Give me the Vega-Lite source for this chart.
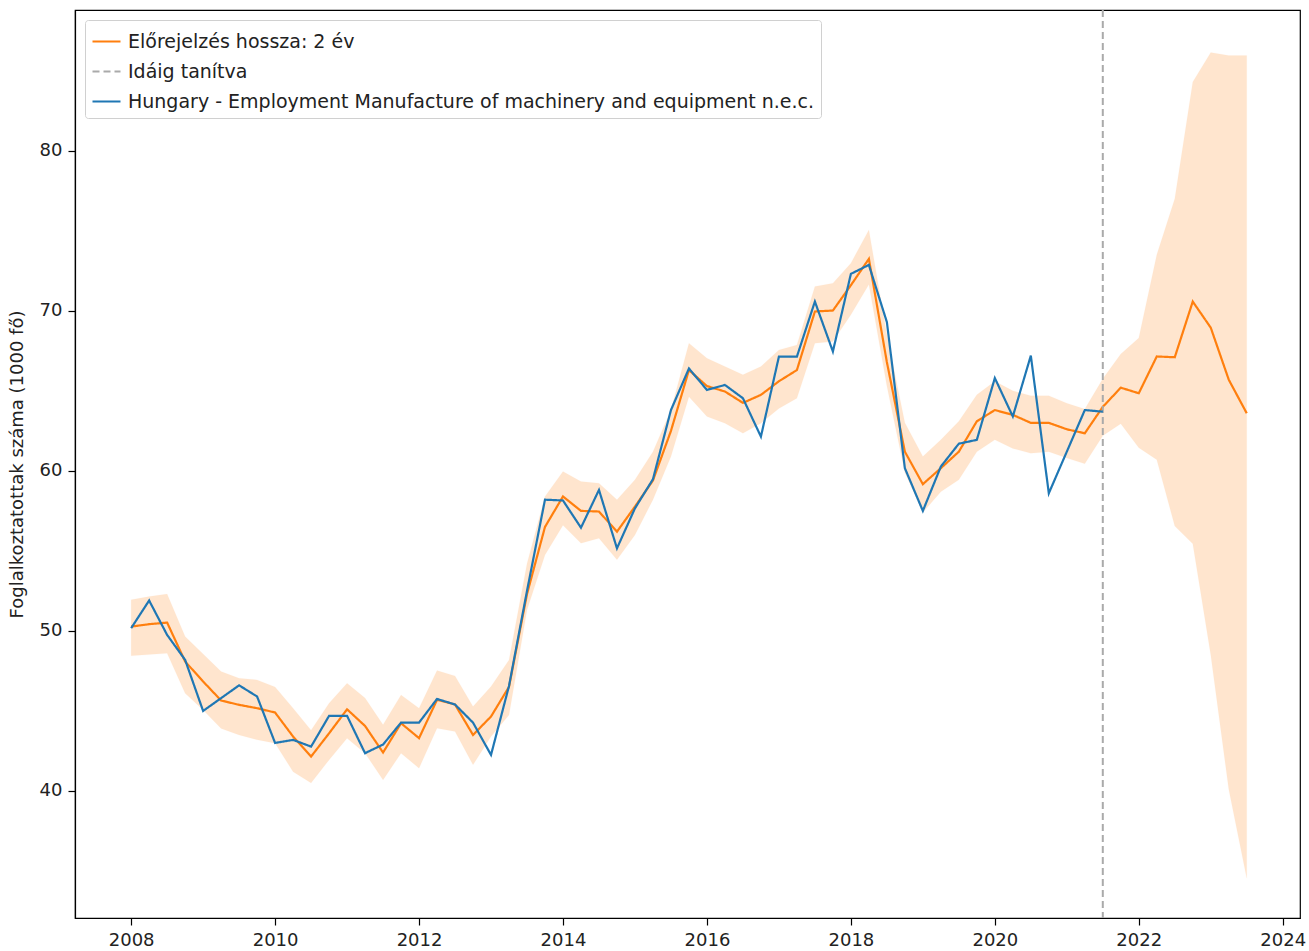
{
  "$schema": "https://vega.github.io/schema/vega-lite/v6.json",
  "width": 1225,
  "height": 908,
  "autosize": {"type": "none"},
  "padding": {"left": 75, "top": 10, "right": 9, "bottom": 33},
  "config": {
    "view": {"stroke": "#000000", "strokeWidth": 1.2},
    "font": "DejaVu Sans",
    "axis": {
      "grid": false,
      "domainColor": "#000000",
      "domainWidth": 1.2,
      "tickColor": "#000000",
      "tickSize": 7,
      "tickWidth": 1.2,
      "labelColor": "#222222",
      "labelFont": "DejaVu Sans",
      "labelFontSize": 18,
      "labelPadding": 6,
      "titleFont": "DejaVu Sans",
      "titleFontSize": 18,
      "titleFontWeight": "normal",
      "titleColor": "#222222"
    },
    "legend": {
      "orient": "top-left",
      "offset": 10,
      "strokeColor": "#d0d0d0",
      "fillColor": "#ffffff",
      "cornerRadius": 3,
      "padding": 6,
      "labelFont": "DejaVu Sans",
      "labelFontSize": 19,
      "labelColor": "#222222",
      "labelLimit": 2000,
      "labelOffset": 6,
      "symbolType": "stroke",
      "symbolSize": 784,
      "symbolStrokeWidth": 2.2,
      "rowPadding": 4,
      "title": null
    }
  },
  "datasets": {
    "pred": [
      {"t": 2008.0, "v": 50.27}, {"t": 2008.25, "v": 50.42}, {"t": 2008.5, "v": 50.52}, {"t": 2008.75, "v": 48.09},
      {"t": 2009.0, "v": 46.84}, {"t": 2009.25, "v": 45.65}, {"t": 2009.5, "v": 45.38}, {"t": 2009.75, "v": 45.17},
      {"t": 2010.0, "v": 44.9}, {"t": 2010.25, "v": 43.4}, {"t": 2010.5, "v": 42.15}, {"t": 2010.75, "v": 43.6},
      {"t": 2011.0, "v": 45.1}, {"t": 2011.25, "v": 44.06}, {"t": 2011.5, "v": 42.4}, {"t": 2011.75, "v": 44.23},
      {"t": 2012.0, "v": 43.3}, {"t": 2012.25, "v": 45.69}, {"t": 2012.5, "v": 45.4}, {"t": 2012.75, "v": 43.5},
      {"t": 2013.0, "v": 44.65}, {"t": 2013.25, "v": 46.5}, {"t": 2013.5, "v": 52.3}, {"t": 2013.75, "v": 56.5},
      {"t": 2014.0, "v": 58.4}, {"t": 2014.25, "v": 57.5}, {"t": 2014.5, "v": 57.46}, {"t": 2014.75, "v": 56.2},
      {"t": 2015.0, "v": 57.77}, {"t": 2015.25, "v": 59.4}, {"t": 2015.5, "v": 62.5}, {"t": 2015.75, "v": 66.3},
      {"t": 2016.0, "v": 65.3}, {"t": 2016.25, "v": 64.96}, {"t": 2016.5, "v": 64.25}, {"t": 2016.75, "v": 64.75},
      {"t": 2017.0, "v": 65.6}, {"t": 2017.25, "v": 66.3}, {"t": 2017.5, "v": 69.96}, {"t": 2017.75, "v": 70.02},
      {"t": 2018.0, "v": 71.6}, {"t": 2018.25, "v": 73.25}, {"t": 2018.5, "v": 66.8}, {"t": 2018.75, "v": 61.2},
      {"t": 2019.0, "v": 59.17}, {"t": 2019.25, "v": 60.17}, {"t": 2019.5, "v": 61.2}, {"t": 2019.75, "v": 63.1},
      {"t": 2020.0, "v": 63.8}, {"t": 2020.25, "v": 63.5}, {"t": 2020.5, "v": 63.0}, {"t": 2020.75, "v": 63.0},
      {"t": 2021.0, "v": 62.6}, {"t": 2021.25, "v": 62.35}, {"t": 2021.5, "v": 64.0}, {"t": 2021.75, "v": 65.2},
      {"t": 2022.0, "v": 64.85}, {"t": 2022.25, "v": 67.15}, {"t": 2022.5, "v": 67.1}, {"t": 2022.75, "v": 70.58},
      {"t": 2023.0, "v": 68.95}, {"t": 2023.25, "v": 65.7}, {"t": 2023.5, "v": 63.6}
    ],
    "actual": [
      {"t": 2008.0, "v": 50.17}, {"t": 2008.25, "v": 51.9}, {"t": 2008.5, "v": 49.75}, {"t": 2008.75, "v": 48.19},
      {"t": 2009.0, "v": 45.0}, {"t": 2009.25, "v": 45.8}, {"t": 2009.5, "v": 46.6}, {"t": 2009.75, "v": 45.9},
      {"t": 2010.0, "v": 43.0}, {"t": 2010.25, "v": 43.19}, {"t": 2010.5, "v": 42.77}, {"t": 2010.75, "v": 44.69},
      {"t": 2011.0, "v": 44.69}, {"t": 2011.25, "v": 42.36}, {"t": 2011.5, "v": 42.9}, {"t": 2011.75, "v": 44.27},
      {"t": 2012.0, "v": 44.27}, {"t": 2012.25, "v": 45.75}, {"t": 2012.5, "v": 45.4}, {"t": 2012.75, "v": 44.27},
      {"t": 2013.0, "v": 42.25}, {"t": 2013.25, "v": 46.56}, {"t": 2013.5, "v": 52.5}, {"t": 2013.75, "v": 58.2},
      {"t": 2014.0, "v": 58.15}, {"t": 2014.25, "v": 56.45}, {"t": 2014.5, "v": 58.81}, {"t": 2014.75, "v": 55.16},
      {"t": 2015.0, "v": 57.66}, {"t": 2015.25, "v": 59.48}, {"t": 2015.5, "v": 63.8}, {"t": 2015.75, "v": 66.4},
      {"t": 2016.0, "v": 65.06}, {"t": 2016.25, "v": 65.37}, {"t": 2016.5, "v": 64.54}, {"t": 2016.75, "v": 62.14},
      {"t": 2017.0, "v": 67.14}, {"t": 2017.25, "v": 67.14}, {"t": 2017.5, "v": 70.58}, {"t": 2017.75, "v": 67.46},
      {"t": 2018.0, "v": 72.31}, {"t": 2018.25, "v": 72.87}, {"t": 2018.5, "v": 69.3}, {"t": 2018.75, "v": 60.17},
      {"t": 2019.0, "v": 57.5}, {"t": 2019.25, "v": 60.27}, {"t": 2019.5, "v": 61.7}, {"t": 2019.75, "v": 61.94},
      {"t": 2020.0, "v": 65.8}, {"t": 2020.25, "v": 63.4}, {"t": 2020.5, "v": 67.2}, {"t": 2020.75, "v": 58.6},
      {"t": 2021.0, "v": 61.2}, {"t": 2021.25, "v": 63.8}, {"t": 2021.5, "v": 63.7}
    ],
    "band": [
      {"t": 2008.0, "lo": 48.44, "hi": 51.94}, {"t": 2008.25, "lo": 48.52, "hi": 52.15}, {"t": 2008.5, "lo": 48.6, "hi": 52.3}, {"t": 2008.75, "lo": 46.1, "hi": 49.65},
      {"t": 2009.0, "lo": 45.06, "hi": 48.56}, {"t": 2009.25, "lo": 43.9, "hi": 47.46}, {"t": 2009.5, "lo": 43.5, "hi": 47.04}, {"t": 2009.75, "lo": 43.2, "hi": 46.94},
      {"t": 2010.0, "lo": 42.98, "hi": 46.5}, {"t": 2010.25, "lo": 41.2, "hi": 45.17}, {"t": 2010.5, "lo": 40.5, "hi": 43.8}, {"t": 2010.75, "lo": 41.94, "hi": 45.48},
      {"t": 2011.0, "lo": 43.29, "hi": 46.73}, {"t": 2011.25, "lo": 42.36, "hi": 45.8}, {"t": 2011.5, "lo": 40.69, "hi": 44.13}, {"t": 2011.75, "lo": 42.36, "hi": 46.0},
      {"t": 2012.0, "lo": 41.42, "hi": 45.17}, {"t": 2012.25, "lo": 43.92, "hi": 47.52}, {"t": 2012.5, "lo": 43.71, "hi": 47.19}, {"t": 2012.75, "lo": 41.63, "hi": 45.27},
      {"t": 2013.0, "lo": 43.4, "hi": 46.52}, {"t": 2013.25, "lo": 44.75, "hi": 48.19}, {"t": 2013.5, "lo": 51.3, "hi": 54.2}, {"t": 2013.75, "lo": 54.75, "hi": 58.4},
      {"t": 2014.0, "lo": 56.6, "hi": 59.96}, {"t": 2014.25, "lo": 55.48, "hi": 59.33}, {"t": 2014.5, "lo": 55.79, "hi": 59.23}, {"t": 2014.75, "lo": 54.44, "hi": 58.19},
      {"t": 2015.0, "lo": 56.0, "hi": 59.44}, {"t": 2015.25, "lo": 58.2, "hi": 61.2}, {"t": 2015.5, "lo": 60.9, "hi": 63.8}, {"t": 2015.75, "lo": 64.64, "hi": 67.98},
      {"t": 2016.0, "lo": 63.4, "hi": 67.04}, {"t": 2016.25, "lo": 62.98, "hi": 66.52}, {"t": 2016.5, "lo": 62.35, "hi": 66.0}, {"t": 2016.75, "lo": 62.98, "hi": 66.52},
      {"t": 2017.0, "lo": 63.9, "hi": 67.56}, {"t": 2017.25, "lo": 64.54, "hi": 67.87}, {"t": 2017.5, "lo": 67.98, "hi": 71.52}, {"t": 2017.75, "lo": 68.08, "hi": 71.73},
      {"t": 2018.0, "lo": 69.75, "hi": 72.98}, {"t": 2018.25, "lo": 71.65, "hi": 75.06}, {"t": 2018.5, "lo": 65.3, "hi": 68.5}, {"t": 2018.75, "lo": 59.9, "hi": 63.0},
      {"t": 2019.0, "lo": 57.4, "hi": 60.9}, {"t": 2019.25, "lo": 58.7, "hi": 61.94}, {"t": 2019.5, "lo": 59.44, "hi": 63.1}, {"t": 2019.75, "lo": 61.2, "hi": 64.75},
      {"t": 2020.0, "lo": 61.94, "hi": 65.6}, {"t": 2020.25, "lo": 61.4, "hi": 65.0}, {"t": 2020.5, "lo": 61.1, "hi": 64.7}, {"t": 2020.75, "lo": 61.2, "hi": 64.7},
      {"t": 2021.0, "lo": 60.8, "hi": 64.23}, {"t": 2021.25, "lo": 60.44, "hi": 63.86}, {"t": 2021.5, "lo": 62.2, "hi": 65.75}, {"t": 2021.75, "lo": 62.95, "hi": 67.3},
      {"t": 2022.0, "lo": 61.45, "hi": 68.3}, {"t": 2022.25, "lo": 60.7, "hi": 73.5}, {"t": 2022.5, "lo": 56.55, "hi": 77.0}, {"t": 2022.75, "lo": 55.45, "hi": 84.3},
      {"t": 2023.0, "lo": 48.5, "hi": 86.15}, {"t": 2023.25, "lo": 40.1, "hi": 85.95}, {"t": 2023.5, "lo": 34.55, "hi": 85.95}
    ],
    "cut": [{"t": 2021.5}]
  },
  "encoding": {
    "x": {
      "field": "t", "type": "quantitative",
      "scale": {"domain": [2007.22, 2024.24], "nice": false, "zero": false},
      "axis": {"values": [2008, 2010, 2012, 2014, 2016, 2018, 2020, 2022, 2024], "format": "d", "title": null, "labelFlush": false}
    }
  },
  "layer": [
    {
      "data": {"name": "band"},
      "mark": {"type": "area", "color": "#ff7f0e", "opacity": 0.2, "stroke": "#ff7f0e", "strokeOpacity": 0.1, "strokeWidth": 1},
      "encoding": {
        "y": {"field": "lo", "type": "quantitative", "scale": {"domain": [32.06, 88.8], "nice": false, "zero": false},
              "axis": {"values": [40, 50, 60, 70, 80], "title": "Foglalkoztatottak száma (1000 fő)", "titlePadding": 13}},
        "y2": {"field": "hi"}
      }
    },
    {
      "data": {"name": "pred"},
      "transform": [{"calculate": "'Előrejelzés hossza: 2 év'", "as": "s"}],
      "mark": {"type": "line", "strokeWidth": 2.2},
      "encoding": {
        "y": {"field": "v", "type": "quantitative"},
        "color": {"field": "s", "type": "nominal",
                  "scale": {"domain": ["Előrejelzés hossza: 2 év", "Idáig tanítva", "Hungary - Employment Manufacture of machinery and equipment n.e.c."],
                            "range": ["#ff7f0e", "#aaaaaa", "#1f77b4"]},
                  "legend": {"title": null}},
        "strokeDash": {"field": "s", "type": "nominal",
                  "scale": {"domain": ["Előrejelzés hossza: 2 év", "Idáig tanítva", "Hungary - Employment Manufacture of machinery and equipment n.e.c."],
                            "range": [[1, 0], [7, 4], [1, 0]]},
                  "legend": {"title": null}}
      }
    },
    {
      "data": {"name": "cut"},
      "transform": [{"calculate": "'Idáig tanítva'", "as": "s"}],
      "mark": {"type": "rule", "strokeWidth": 2},
      "encoding": {
        "color": {"field": "s", "type": "nominal"},
        "strokeDash": {"field": "s", "type": "nominal"}
      }
    },
    {
      "data": {"name": "actual"},
      "transform": [{"calculate": "'Hungary - Employment Manufacture of machinery and equipment n.e.c.'", "as": "s"}],
      "mark": {"type": "line", "strokeWidth": 2.2},
      "encoding": {
        "y": {"field": "v", "type": "quantitative"},
        "color": {"field": "s", "type": "nominal"},
        "strokeDash": {"field": "s", "type": "nominal"}
      }
    }
  ]
}
